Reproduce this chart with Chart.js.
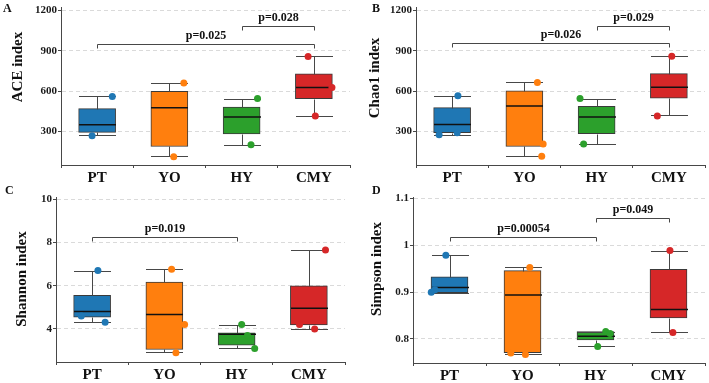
<!DOCTYPE html>
<html>
<head>
<meta charset="utf-8">
<script src="https://cdn.jsdelivr.net/npm/chart.js@4"></script>
<style>
  html, body { margin: 0; padding: 0; background: #fff; width: 709px; height: 383px; overflow: hidden; }
  canvas { position: absolute; }
</style>
</head>
<body>
<canvas id="ace" width="354" height="190" style="left:0;top:0"></canvas>
<canvas id="chao" width="354" height="190" style="left:355px;top:0"></canvas>
<canvas id="shannon" width="354" height="200" style="left:0;top:183px"></canvas>
<canvas id="simpson" width="354" height="200" style="left:355px;top:183px"></canvas>
<script>
const groups = ['PT', 'YO', 'HY', 'CMY']
const colors = ['#1f77b4', '#ff7f0e', '#2ca02c', '#d62728']

// box stats per group: [lower whisker, Q1, median, Q3, upper whisker]
const aceBox = [[270, 293, 349, 470, 562], [118, 188, 477, 598, 663], [200, 282, 407, 482, 545], [417, 544, 627, 728, 858]]
const acePts = [[560, 267], [660, 112], [545, 200], [858, 415, 627]]
const aceTicks = [300, 600, 900, 1200]
const aceSig = [[0, 3, 949, 'p=0.025'], [2, 3, 1086, 'p=0.028']]

const chaoBox = [[272, 291, 352, 477, 564], [118, 188, 489, 602, 665], [207, 284, 407, 487, 545], [419, 547, 629, 730, 862]]
const chaoPts = [[565, 275, 290], [665, 207, 115], [545, 207], [860, 415]]
const chaoTicks = [300, 600, 900, 1200]
const chaoSig = [[0, 3, 959, 'p=0.026'], [2, 3, 1086, 'p=0.029']]

const shanBox = [[4.31, 4.54, 4.81, 5.55, 6.70], [2.93, 3.05, 4.67, 6.16, 6.76], [3.10, 3.25, 3.75, 3.82, 4.20], [4.00, 4.18, 4.95, 5.99, 7.65]]
const shanPts = [[6.7, 4.31, 4.6], [6.76, 4.2, 2.9], [4.2, 3.1, 3.7], [7.65, 4.0, 4.2]]
const shanTicks = [4, 6, 8, 10]
const shanSig = [[0, 2, 8.24, 'p=0.019']]

const simpBox = [[0.899, 0.899, 0.910, 0.933, 0.979], [0.767, 0.771, 0.894, 0.946, 0.953], [0.784, 0.798, 0.806, 0.816, 0.816], [0.814, 0.845, 0.863, 0.949, 0.989]]
const simpPts = [[0.979, 0.9, 0.905], [0.953, 0.767, 0.77], [0.784, 0.816, 0.812], [0.989, 0.814]]
const simpTicks = [0.8, 0.9, 1, 1.1]
const simpSig = [[0, 2, 1.018, 'p=0.00054'], [2, 3, 1.0585, 'p=0.049']]

// horizontal jitter of the dots (in category units)
const aceJit = [[0.21, -0.07], [0.2, 0.06], [0.22, 0.13], [-0.08, 0.02, 0.25]]
const chaoJit = [[0.08, -0.18, 0.07], [0.18, 0.26, 0.24], [-0.23, -0.18], [0.04, -0.16]]
const shanJit = [[0.08, 0.18, -0.15], [0.1, 0.28, 0.16], [0.07, 0.25, 0.15], [0.23, 0.08, -0.13]]
const simpJit = [[-0.05, -0.25, -0.2], [0.1, 0.04, -0.16], [0.03, 0.14, 0.2], [0.02, 0.06]]

const serif = "'Liberation Serif', 'Times New Roman', serif"
const lineCol = '#474747'

const boxDecor = {
  id: 'boxDecor',
  afterDatasetDraw(chart, args, o) {
    if (args.index !== 0) return
    const { ctx } = chart
    const x = chart.scales.x, y = chart.scales.y
    const meta = chart.getDatasetMeta(0)
    ctx.save()
    o.box.forEach((b, i) => {
      const cx = Math.round(x.getPixelForValue(i)) + 0.5
      const hw = meta.data[i].width / 2
      const py = v => Math.round(y.getPixelForValue(v)) + 0.5
      ctx.strokeStyle = lineCol
      ctx.lineWidth = 1
      ctx.beginPath()
      ctx.moveTo(cx, py(b[3])); ctx.lineTo(cx, py(b[4]))
      ctx.moveTo(cx - hw, py(b[4])); ctx.lineTo(cx + hw, py(b[4]))
      ctx.moveTo(cx, py(b[1])); ctx.lineTo(cx, py(b[0]))
      ctx.moveTo(cx - hw, py(b[0])); ctx.lineTo(cx + hw, py(b[0]))
      ctx.stroke()
      ctx.strokeStyle = '#111'
      ctx.lineWidth = 1.5
      ctx.beginPath()
      ctx.moveTo(cx - hw, y.getPixelForValue(b[2])); ctx.lineTo(cx + hw, y.getPixelForValue(b[2]))
      ctx.stroke()
    })
    ctx.restore()
  },
  afterDraw(chart, args, o) {
    const { ctx } = chart
    const x = chart.scales.x, y = chart.scales.y
    ctx.save()
    // significance brackets
    o.sig.forEach(s => {
      const x1 = Math.round(x.getPixelForValue(s[0])) + 0.5
      const x2 = Math.round(x.getPixelForValue(s[1])) + 0.5
      const yy = Math.round(y.getPixelForValue(s[2])) + 0.5
      ctx.strokeStyle = lineCol
      ctx.lineWidth = 1
      ctx.beginPath()
      ctx.moveTo(x1, yy + 4); ctx.lineTo(x1, yy); ctx.lineTo(x2, yy); ctx.lineTo(x2, yy + 4)
      ctx.stroke()
      ctx.fillStyle = '#111'
      ctx.font = 'bold 12px ' + serif
      ctx.textAlign = 'center'
      ctx.textBaseline = 'alphabetic'
      ctx.fillText(s[3], (x1 + x2) / 2, yy - 6)
    })
    // panel letter
    ctx.fillStyle = '#111'
    ctx.font = 'bold 12px ' + serif
    ctx.textAlign = 'left'
    ctx.fillText(o.letter, o.letterX, o.letterY)
    // y axis title
    ctx.translate(o.titleX, o.titleY)
    ctx.rotate(-Math.PI / 2)
    ctx.font = 'bold 15px ' + serif
    ctx.textAlign = 'center'
    ctx.textBaseline = 'middle'
    ctx.fillText(o.title, 0, 0)
    ctx.restore()
  }
}

function boxChart(id, title, box, pts, jit, ticks, sig, yMin, yMax, g) {
  const points = []
  const pointColors = []
  pts.forEach((vals, i) => vals.forEach((v, k) => {
    points.push({ x: i + jit[i][k], y: v })
    pointColors.push(colors[i])
  }))

  return new Chart(document.getElementById(id), {
    type: 'bar',
    data: {
      datasets: [{
        type: 'bar',
        data: box.map((b, i) => ({ x: i, y: [b[1], b[3]] })),
        backgroundColor: colors,
        borderColor: '#3a3a3a',
        borderWidth: 1,
        borderSkipped: false,
        barThickness: 37,
        order: 2
      }, {
        type: 'scatter',
        data: points,
        backgroundColor: pointColors,
        pointRadius: 3.5,
        borderWidth: 0,
        order: 1
      }]
    },
    options: {
      responsive: false,
      animation: false,
      devicePixelRatio: 1,
      events: [],
      layout: { padding: { top: g.top, right: g.right, left: 0, bottom: 0 } },
      scales: {
        x: {
          type: 'linear',
          min: -0.5,
          max: 3.5,
          offset: false,
          afterBuildTicks: s => { s.ticks = groups.map((_, i) => ({ value: i })) },
          afterFit: s => { s.height = g.xh },
          ticks: {
            callback: v => groups[v],
            font: { family: serif, size: 15, weight: 'bold' },
            color: '#111',
            padding: 1,
            maxRotation: 0,
            autoSkip: false
          },
          grid: { drawOnChartArea: false, drawTicks: true, tickLength: 3, tickColor: lineCol },
          border: { color: lineCol, width: 1 }
        },
        y: {
          min: yMin,
          max: yMax,
          afterBuildTicks: s => { s.ticks = ticks.map(v => ({ value: v })) },
          afterFit: s => { s.width = g.yw },
          ticks: {
            callback: v => String(v),
            font: { family: serif, size: 11, weight: 'bold' },
            color: '#1a1a1a',
            padding: 1
          },
          grid: { color: '#dadada', lineWidth: 1, tickLength: 3, tickColor: lineCol },
          border: { color: lineCol, width: 1, dash: [4, 3] }
        }
      },
      plugins: {
        legend: { display: false },
        tooltip: { enabled: false },
        boxDecor: {
          box: box, sig: sig, title: title,
          letter: g.letter, letterX: g.lx, letterY: g.ly,
          titleX: g.tx, titleY: g.ty
        }
      }
    },
    plugins: [boxDecor]
  })
}

boxChart('ace', 'ACE index', aceBox, acePts, aceJit, aceTicks, aceSig, 50, 1222,
  { top: 3, right: 4, xh: 25, yw: 61, letter: 'A', lx: 3, ly: 12, tx: 18, ty: 67 })
boxChart('chao', 'Chao1 index', chaoBox, chaoPts, chaoJit, chaoTicks, chaoSig, 50, 1222,
  { top: 3, right: 2, xh: 25, yw: 61, letter: 'B', lx: 17, ly: 12, tx: 20, ty: 78 })
boxChart('shannon', 'Shannon index', shanBox, shanPts, shanJit, shanTicks, shanSig, 2.47, 10.1,
  { top: 14, right: 9, xh: 21, yw: 56, letter: 'C', lx: 5, ly: 11, tx: 22, ty: 96 })
boxChart('simpson', 'Simpson index', simpBox, simpPts, simpJit, simpTicks, simpSig, 0.7487, 1.1034,
  { top: 14, right: 3, xh: 20, yw: 58, letter: 'D', lx: 17, ly: 11, tx: 22, ty: 86 })
</script>
</body>
</html>
